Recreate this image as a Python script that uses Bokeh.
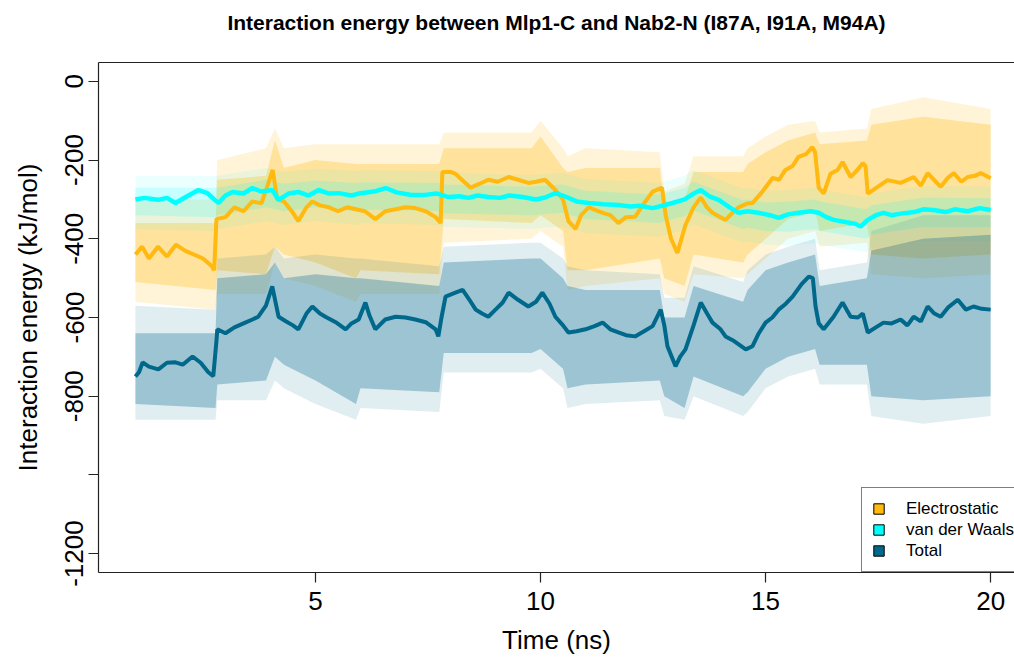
from bokeh.plotting import figure
from bokeh.models import (Range1d, LinearAxis, FixedTicker, Legend, LegendItem)
from bokeh.embed import file_html
from bokeh.resources import INLINE

# ---------------- data ----------------
title_text = "Interaction energy between Mlp1-C and Nab2-N (I87A, I91A, M94A)"
x_label = "Time (ns)"
y_label = "Interaction energy (kJ/mol)"
x_ticks = [5, 10, 15, 20]
y_ticks = [0, -200, -400, -600, -800, -1000, -1200]
y_tick_labels = ["0", "-200", "-400", "-600", "-800", "", "-1200"]
series_names = ["Electrostatic", "van der Waals", "Total"]

# running-mean lines
t_elec = [1.0, 1.15, 1.3, 1.5, 1.7, 1.9, 2.1, 2.3, 2.5, 2.7, 2.75, 2.8, 3.0, 3.2, 3.4, 3.6, 3.8,
          3.95, 4.05, 4.15, 4.3, 4.5, 4.62, 4.8, 4.93, 5.1, 5.3, 5.5, 5.7, 5.9, 6.1, 6.33, 6.55,
          6.78, 7.0, 7.22, 7.45, 7.67, 7.78, 7.82, 8.0, 8.11, 8.3, 8.45, 8.65, 8.84, 9.05, 9.29,
          9.5, 9.73, 9.9, 10.1, 10.33, 10.5, 10.62, 10.78, 10.9, 11.07, 11.38, 11.55, 11.73, 11.9,
          12.1, 12.3, 12.49, 12.7, 12.78, 12.9, 13.04, 13.22, 13.4, 13.56, 13.7, 13.82, 14.0,
          14.11, 14.3, 14.4, 14.6, 14.71, 14.93, 15.16, 15.3, 15.44, 15.6, 15.73, 15.9, 16.04,
          16.1, 16.18, 16.29, 16.44, 16.6, 16.71, 16.89, 17.0, 17.16, 17.22, 17.27, 17.49, 17.71,
          18.0, 18.29, 18.45, 18.6, 18.89, 19.05, 19.18, 19.35, 19.49, 19.65, 19.78, 20.0]
elec_mean = [-440, -420, -450, -420, -445, -415, -430, -440, -450, -470, -480, -350, -345, -320,
             -330, -305, -310, -260, -225, -300, -305, -334, -355, -320, -305, -315, -320, -330,
             -320, -325, -330, -350, -330, -325, -320, -322, -330, -345, -360, -230, -230, -235,
             -255, -270, -260, -250, -255, -243, -250, -258, -255, -250, -276, -300, -355, -375,
             -340, -320, -334, -340, -360, -345, -344, -310, -280, -270, -340, -400, -436, -365,
             -320, -295, -320, -334, -345, -352, -330, -320, -310, -309, -280, -245, -250, -225,
             -215, -192, -185, -167, -180, -270, -285, -235, -225, -205, -243, -230, -208, -215,
             -285, -268, -251, -258, -243, -265, -233, -268, -245, -233, -255, -243, -240, -233,
             -246]

t_vdw = [1.0, 1.2, 1.5, 1.7, 1.89, 2.1, 2.4, 2.6, 2.75, 2.85, 3.0, 3.16, 3.4, 3.6, 3.8, 4.04,
         4.18, 4.4, 4.62, 4.85, 5.07, 5.3, 5.51, 5.8, 6.0, 6.3, 6.56, 6.8, 7.1, 7.38, 7.7, 7.96,
         8.2, 8.4, 8.6, 8.84, 9.1, 9.3, 9.6, 9.9, 10.1, 10.33, 10.6, 10.8, 11.07, 11.4, 11.73,
         12.0, 12.2, 12.49, 12.7, 12.93, 13.2, 13.4, 13.56, 13.75, 13.96, 14.2, 14.4, 14.6, 14.84,
         15.1, 15.29, 15.5, 15.73, 16.0, 16.18, 16.35, 16.51, 16.8, 17.0, 17.11, 17.27, 17.45,
         17.62, 17.8, 18.0, 18.3, 18.5, 18.73, 19.0, 19.2, 19.49, 19.75, 20.0]
vdw_mean = [-300, -296, -301, -296, -309, -295, -276, -284, -300, -309, -290, -281, -285, -271,
            -280, -276, -301, -285, -281, -290, -276, -285, -284, -290, -284, -280, -271, -282,
            -288, -289, -285, -294, -292, -296, -290, -294, -296, -290, -294, -300, -295, -284,
            -295, -305, -309, -312, -314, -318, -316, -322, -316, -309, -300, -285, -276, -292,
            -301, -320, -334, -330, -334, -340, -347, -338, -334, -330, -334, -345, -352, -358,
            -362, -369, -352, -340, -334, -340, -336, -332, -325, -327, -332, -325, -330, -322,
            -327]

t_total = [1.0, 1.08, 1.16, 1.3, 1.51, 1.7, 1.89, 2.05, 2.27, 2.45, 2.62, 2.73, 2.8, 2.82, 3.0,
           3.2, 3.44, 3.6, 3.73, 3.9, 4.04, 4.18, 4.35, 4.5, 4.62, 4.8, 4.93, 5.1, 5.22, 5.45,
           5.67, 5.8, 5.96, 6.11, 6.2, 6.33, 6.55, 6.78, 7.0, 7.22, 7.45, 7.67, 7.73, 7.8, 7.89,
           8.11, 8.27, 8.42, 8.56, 8.7, 8.84, 9.0, 9.16, 9.29, 9.5, 9.73, 9.9, 10.04, 10.2,
           10.33, 10.5, 10.62, 10.8, 11.0, 11.2, 11.38, 11.55, 11.73, 11.9, 12.1, 12.3, 12.49,
           12.67, 12.75, 12.82, 13.0, 13.1, 13.22, 13.4, 13.56, 13.7, 13.82, 14.0, 14.11, 14.3,
           14.56, 14.71, 14.85, 15.0, 15.15, 15.29, 15.45, 15.6, 15.8, 15.96, 16.05, 16.11,
           16.18, 16.29, 16.51, 16.71, 16.89, 17.05, 17.16, 17.27, 17.45, 17.62, 17.8, 18.0,
           18.15, 18.29, 18.45, 18.6, 18.75, 18.89, 19.05, 19.27, 19.45, 19.62, 19.8, 20.0]
total_mean = [-750, -739, -714, -725, -732, -715, -714, -720, -699, -715, -739, -749, -660, -630,
              -640, -625, -613, -605, -598, -570, -521, -598, -610, -620, -630, -590, -572, -590,
              -598, -612, -630, -615, -605, -562, -595, -630, -605, -598, -600, -605, -612, -630,
              -648, -600, -547, -537, -530, -555, -580, -590, -598, -580, -562, -537, -555, -572,
              -560, -537, -565, -598, -620, -638, -635, -630, -622, -613, -630, -638, -645, -648,
              -635, -622, -580, -620, -673, -724, -700, -681, -620, -562, -590, -613, -630, -648,
              -660, -681, -673, -640, -613, -600, -580, -565, -547, -515, -496, -500, -572, -615,
              -630, -598, -562, -598, -600, -590, -638, -625, -613, -615, -605, -620, -598, -610,
              -572, -590, -598, -575, -555, -580, -572, -578, -580]

# fluctuation envelopes (dense core and sparse outer spikes)
t_band = [1.0, 2.78, 2.82, 3.9, 4.1, 4.3, 5.0, 5.9, 6.0, 7.75, 7.85, 9.8, 10.0, 10.5, 10.6,
          11.0, 12.65, 12.75, 13.2, 13.4, 14.5, 14.6, 15.0, 15.5, 16.1, 16.2, 17.25, 17.35,
          18.5, 20.0]
elec_core_lo = [-510, -530, -480, -490, -420, -440, -460, -500, -480, -490, -350, -360, -340,
                -380, -480, -480, -450, -500, -520, -440, -460, -440, -400, -350, -330, -380,
                -360, -440, -450, -440]
elec_core_hi = [-360, -360, -250, -240, -150, -220, -200, -210, -210, -210, -170, -170, -140,
                -220, -230, -220, -220, -320, -300, -230, -230, -210, -180, -150, -130, -160,
                -150, -110, -90, -110]
elec_out_lo = [-560, -580, -540, -540, -460, -500, -520, -560, -540, -540, -410, -400, -380,
               -420, -530, -520, -500, -540, -560, -490, -500, -490, -450, -400, -380, -420,
               -410, -490, -500, -490]
elec_out_hi = [-300, -300, -200, -170, -120, -170, -160, -160, -160, -160, -130, -130, -100,
               -170, -190, -170, -180, -280, -260, -190, -190, -170, -140, -110, -100, -130,
               -120, -70, -40, -70]
vdw_core_lo = [-340, -345, -340, -320, -325, -330, -320, -330, -325, -330, -335, -340, -338,
               -334, -338, -350, -360, -356, -342, -328, -375, -372, -380, -382, -376, -380,
               -400, -390, -370, -370]
vdw_core_hi = [-270, -270, -270, -250, -255, -260, -252, -258, -256, -258, -262, -268, -266,
               -262, -266, -278, -288, -284, -270, -255, -302, -300, -308, -306, -300, -305,
               -325, -315, -296, -297]
vdw_out_lo = [-375, -380, -375, -355, -360, -365, -355, -365, -360, -365, -370, -375, -373,
              -369, -373, -385, -395, -391, -377, -363, -410, -407, -415, -417, -411, -415,
              -435, -425, -405, -405]
vdw_out_hi = [-240, -240, -240, -220, -225, -230, -222, -228, -226, -228, -232, -238, -236,
              -232, -236, -248, -258, -254, -240, -225, -272, -270, -278, -276, -270, -275,
              -295, -285, -266, -267]
total_core_lo = [-820, -830, -770, -760, -700, -720, -760, -820, -780, -790, -690, -690, -680,
                 -730, -780, -770, -760, -800, -830, -750, -800, -790, -730, -700, -680, -720,
                 -720, -800, -810, -800]
total_core_hi = [-640, -640, -500, -490, -460, -500, -490, -500, -500, -520, -460, -450, -450,
                 -500, -520, -530, -530, -600, -600, -520, -560, -530, -480, -460, -440, -520,
                 -500, -430, -400, -390]
total_out_lo = [-860, -860, -810, -810, -760, -780, -820, -860, -830, -840, -740, -740, -730,
                -780, -830, -820, -810, -850, -860, -800, -850, -840, -780, -750, -730, -770,
                -770, -850, -870, -850]
total_out_hi = [-570, -580, -450, -440, -420, -450, -440, -450, -450, -470, -420, -410, -410,
                -450, -470, -480, -490, -550, -550, -470, -510, -480, -440, -420, -400, -480,
                -460, -380, -340, -340]

# ---------------- styling ----------------
FONT = "Liberation Sans"
C_ELEC = "#FFB90F"
C_VDW = "#00FFFF"
C_TOT = "#00688B"

p = figure(width=1014, height=657, x_range=Range1d(0.18, 20.53), y_range=Range1d(-1248, 48),
           output_backend="svg", toolbar_location=None, x_axis_type=None, y_axis_type=None,
           min_border_left=98, min_border_right=0, min_border_top=62, min_border_bottom=84)
p.outline_line_color = None
p.xgrid.visible = False
p.ygrid.visible = False
p.background_fill_color = "white"
p.border_fill_color = "white"


def style_axis(ax):
    ax.axis_line_color = "#222222"
    ax.axis_line_width = 1.2
    ax.major_tick_line_color = "#222222"
    ax.major_tick_line_width = 1.2
    ax.major_tick_out = 10
    ax.major_tick_in = 0
    ax.minor_tick_out = 0
    ax.minor_tick_in = 0
    ax.major_label_text_font = FONT
    ax.major_label_text_font_size = "26px"
    ax.major_label_text_color = "black"
    ax.axis_label_text_font = FONT
    ax.axis_label_text_font_size = "26px"
    ax.axis_label_text_font_style = "normal"
    ax.axis_label_text_color = "black"
    ax.major_label_standoff = 5


xaxis = LinearAxis(ticker=FixedTicker(ticks=x_ticks), axis_label=x_label)
style_axis(xaxis)
xaxis.major_label_standoff = 9
xaxis.axis_label_standoff = 12
xaxis.major_label_overrides = {t: str(t) for t in x_ticks}
p.add_layout(xaxis, "below")

yaxis = LinearAxis(ticker=FixedTicker(ticks=y_ticks), axis_label=y_label)
style_axis(yaxis)
yaxis.axis_label_standoff = 20
yaxis.major_label_orientation = "vertical"
yaxis.major_label_overrides = {t: s for t, s in zip(y_ticks, y_tick_labels)}
p.add_layout(yaxis, "left")

# top axis: draws the upper edge of the box and carries the chart title
topaxis = LinearAxis(ticker=FixedTicker(ticks=[]), axis_label=title_text)
style_axis(topaxis)
topaxis.major_tick_out = 0
topaxis.major_label_standoff = 0
topaxis.major_label_text_font_size = "0px"
topaxis.axis_label_text_font_size = "21px"
topaxis.axis_label_text_font_style = "bold"
topaxis.axis_label_standoff = 29
p.add_layout(topaxis, "above")

# bands
bands = [
    (elec_out_lo, elec_out_hi, C_ELEC, 0.16), (elec_core_lo, elec_core_hi, C_ELEC, 0.30),
    (vdw_out_lo, vdw_out_hi, C_VDW, 0.08), (vdw_core_lo, vdw_core_hi, C_VDW, 0.16),
    (total_out_lo, total_out_hi, C_TOT, 0.12), (total_core_lo, total_core_hi, C_TOT, 0.30),
]
for lo, hi, c, a in bands:
    p.varea(x=t_band, y1=lo, y2=hi, fill_color=c, fill_alpha=a)

p.line(t_elec, elec_mean, line_color=C_ELEC, line_width=4)
p.line(t_vdw, vdw_mean, line_color=C_VDW, line_width=4.5)
p.line(t_total, total_mean, line_color=C_TOT, line_width=4)

# legend (filled squares with black border)
nan = float("nan")
items = []
for name, c in zip(series_names, [C_ELEC, C_VDW, C_TOT]):
    r = p.quad(left=[nan], right=[nan], top=[nan], bottom=[nan], fill_color=c,
               line_color="black", line_width=1)
    items.append(LegendItem(label=name, renderers=[r]))
legend = Legend(items=items, location=(763, 0), margin=0, padding=10, spacing=0,
                glyph_width=13, glyph_height=13, label_height=21, label_standoff=21,
                label_text_font=FONT, label_text_font_size="17px", label_text_color="black",
                border_line_color="black", border_line_width=1,
                background_fill_color="white", background_fill_alpha=1.0)
p.add_layout(legend, "center")

open("out.html", "w").write(file_html(p, INLINE))
